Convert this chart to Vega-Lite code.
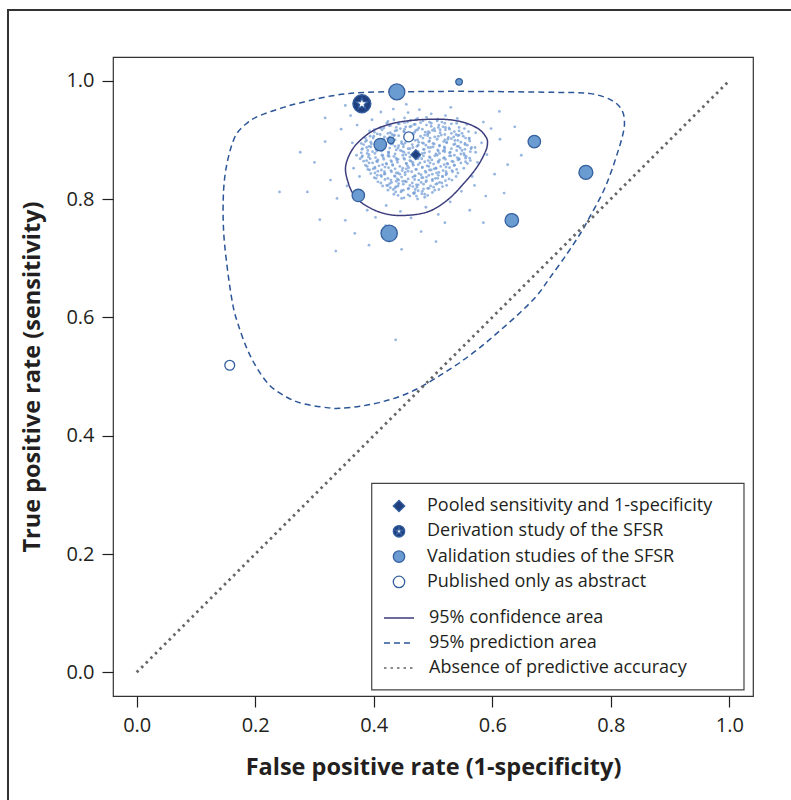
{
  "$schema": "https://vega.github.io/schema/vega-lite/v6.json",
  "width": 640,
  "height": 639,
  "autosize": {"type": "none"},
  "padding": {"left": 113, "top": 57, "right": 38, "bottom": 104},
  "background": "white",
  "config": {
    "font": "Open Sans",
    "view": {"stroke": "#333333", "strokeWidth": 1.2},
    "axis": {
      "domain": false, "grid": false, "ticks": true, "tickSize": 11, "tickColor": "#231f20", "tickWidth": 1.2,
      "labelFont": "Open Sans", "labelFontSize": 20, "labelColor": "#231f20", "labelPadding": 8,
      "titleFont": "Open Sans", "titleFontWeight": "bold", "titleFontSize": 23.5, "titleColor": "#231f20"
    }
  },
  "datasets": {
    "studies": [
      {"fpr": 0.380, "tpr": 0.961, "type": "Derivation study of the SFSR", "n": 103},
      {"fpr": 0.439, "tpr": 0.981, "type": "Validation studies of the SFSR", "n": 81},
      {"fpr": 0.544, "tpr": 0.998, "type": "Validation studies of the SFSR", "n": 14},
      {"fpr": 0.411, "tpr": 0.892, "type": "Validation studies of the SFSR", "n": 50},
      {"fpr": 0.429, "tpr": 0.899, "type": "Validation studies of the SFSR", "n": 14},
      {"fpr": 0.459, "tpr": 0.905, "type": "Published only as abstract", "n": 31},
      {"fpr": 0.374, "tpr": 0.806, "type": "Validation studies of the SFSR", "n": 49},
      {"fpr": 0.426, "tpr": 0.742, "type": "Validation studies of the SFSR", "n": 85},
      {"fpr": 0.671, "tpr": 0.897, "type": "Validation studies of the SFSR", "n": 50},
      {"fpr": 0.758, "tpr": 0.845, "type": "Validation studies of the SFSR", "n": 62},
      {"fpr": 0.633, "tpr": 0.764, "type": "Validation studies of the SFSR", "n": 58},
      {"fpr": 0.157, "tpr": 0.519, "type": "Published only as abstract", "n": 31},
      {"fpr": 0.471, "tpr": 0.875, "type": "Pooled sensitivity and 1-specificity", "n": 30}
    ],
    "curves": [
      {"curve": "95% confidence area", "i": 1, "fpr": 0.3524, "tpr": 0.8536},
      {"curve": "95% confidence area", "i": 2, "fpr": 0.3597, "tpr": 0.8763},
      {"curve": "95% confidence area", "i": 3, "fpr": 0.3738, "tpr": 0.8958},
      {"curve": "95% confidence area", "i": 4, "fpr": 0.3991, "tpr": 0.9156},
      {"curve": "95% confidence area", "i": 5, "fpr": 0.4329, "tpr": 0.9279},
      {"curve": "95% confidence area", "i": 6, "fpr": 0.4725, "tpr": 0.9336},
      {"curve": "95% confidence area", "i": 7, "fpr": 0.5175, "tpr": 0.9347},
      {"curve": "95% confidence area", "i": 8, "fpr": 0.5513, "tpr": 0.9296},
      {"curve": "95% confidence area", "i": 9, "fpr": 0.5767, "tpr": 0.9185},
      {"curve": "95% confidence area", "i": 10, "fpr": 0.5897, "tpr": 0.9043},
      {"curve": "95% confidence area", "i": 11, "fpr": 0.5919, "tpr": 0.8931},
      {"curve": "95% confidence area", "i": 12, "fpr": 0.5880, "tpr": 0.8790},
      {"curve": "95% confidence area", "i": 13, "fpr": 0.5740, "tpr": 0.8536},
      {"curve": "95% confidence area", "i": 14, "fpr": 0.5513, "tpr": 0.8256},
      {"curve": "95% confidence area", "i": 15, "fpr": 0.5233, "tpr": 0.7974},
      {"curve": "95% confidence area", "i": 16, "fpr": 0.4894, "tpr": 0.7777},
      {"curve": "95% confidence area", "i": 17, "fpr": 0.4443, "tpr": 0.7721},
      {"curve": "95% confidence area", "i": 18, "fpr": 0.4105, "tpr": 0.7777},
      {"curve": "95% confidence area", "i": 19, "fpr": 0.3822, "tpr": 0.7918},
      {"curve": "95% confidence area", "i": 20, "fpr": 0.3653, "tpr": 0.8087},
      {"curve": "95% confidence area", "i": 21, "fpr": 0.3558, "tpr": 0.8312},
      {"curve": "95% prediction area", "i": 1, "fpr": 0.1624, "tpr": 0.6201},
      {"curve": "95% prediction area", "i": 2, "fpr": 0.1534, "tpr": 0.6792},
      {"curve": "95% prediction area", "i": 3, "fpr": 0.1466, "tpr": 0.7467},
      {"curve": "95% prediction area", "i": 4, "fpr": 0.1466, "tpr": 0.8143},
      {"curve": "95% prediction area", "i": 5, "fpr": 0.1534, "tpr": 0.8649},
      {"curve": "95% prediction area", "i": 6, "fpr": 0.1669, "tpr": 0.9071},
      {"curve": "95% prediction area", "i": 7, "fpr": 0.1872, "tpr": 0.9291},
      {"curve": "95% prediction area", "i": 8, "fpr": 0.2075, "tpr": 0.9409},
      {"curve": "95% prediction area", "i": 9, "fpr": 0.2464, "tpr": 0.9544},
      {"curve": "95% prediction area", "i": 10, "fpr": 0.2752, "tpr": 0.9623},
      {"curve": "95% prediction area", "i": 11, "fpr": 0.3310, "tpr": 0.9747},
      {"curve": "95% prediction area", "i": 12, "fpr": 0.3880, "tpr": 0.9803},
      {"curve": "95% prediction area", "i": 13, "fpr": 0.4663, "tpr": 0.9814},
      {"curve": "95% prediction area", "i": 14, "fpr": 0.5571, "tpr": 0.9819},
      {"curve": "95% prediction area", "i": 15, "fpr": 0.7030, "tpr": 0.9803},
      {"curve": "95% prediction area", "i": 16, "fpr": 0.7656, "tpr": 0.9781},
      {"curve": "95% prediction area", "i": 17, "fpr": 0.8023, "tpr": 0.9663},
      {"curve": "95% prediction area", "i": 18, "fpr": 0.8192, "tpr": 0.9494},
      {"curve": "95% prediction area", "i": 19, "fpr": 0.8231, "tpr": 0.9269},
      {"curve": "95% prediction area", "i": 20, "fpr": 0.8192, "tpr": 0.9043},
      {"curve": "95% prediction area", "i": 21, "fpr": 0.8108, "tpr": 0.8763},
      {"curve": "95% prediction area", "i": 22, "fpr": 0.7994, "tpr": 0.8425},
      {"curve": "95% prediction area", "i": 23, "fpr": 0.7854, "tpr": 0.8087},
      {"curve": "95% prediction area", "i": 24, "fpr": 0.7627, "tpr": 0.7665},
      {"curve": "95% prediction area", "i": 25, "fpr": 0.7487, "tpr": 0.7417},
      {"curve": "95% prediction area", "i": 26, "fpr": 0.7262, "tpr": 0.7074},
      {"curve": "95% prediction area", "i": 27, "fpr": 0.6980, "tpr": 0.6679},
      {"curve": "95% prediction area", "i": 28, "fpr": 0.6755, "tpr": 0.6370},
      {"curve": "95% prediction area", "i": 29, "fpr": 0.6472, "tpr": 0.6083},
      {"curve": "95% prediction area", "i": 30, "fpr": 0.6134, "tpr": 0.5779},
      {"curve": "95% prediction area", "i": 31, "fpr": 0.5796, "tpr": 0.5492},
      {"curve": "95% prediction area", "i": 32, "fpr": 0.5458, "tpr": 0.5239},
      {"curve": "95% prediction area", "i": 33, "fpr": 0.5119, "tpr": 0.5019},
      {"curve": "95% prediction area", "i": 34, "fpr": 0.4781, "tpr": 0.4816},
      {"curve": "95% prediction area", "i": 35, "fpr": 0.4443, "tpr": 0.4665},
      {"curve": "95% prediction area", "i": 36, "fpr": 0.4105, "tpr": 0.4563},
      {"curve": "95% prediction area", "i": 37, "fpr": 0.3766, "tpr": 0.4496},
      {"curve": "95% prediction area", "i": 38, "fpr": 0.3428, "tpr": 0.4462},
      {"curve": "95% prediction area", "i": 39, "fpr": 0.3203, "tpr": 0.4474},
      {"curve": "95% prediction area", "i": 40, "fpr": 0.2807, "tpr": 0.4542},
      {"curve": "95% prediction area", "i": 41, "fpr": 0.2527, "tpr": 0.4653},
      {"curve": "95% prediction area", "i": 42, "fpr": 0.2244, "tpr": 0.4851},
      {"curve": "95% prediction area", "i": 43, "fpr": 0.2019, "tpr": 0.5160},
      {"curve": "95% prediction area", "i": 44, "fpr": 0.1850, "tpr": 0.5497},
      {"curve": "95% prediction area", "i": 45, "fpr": 0.1708, "tpr": 0.5892}
    ],
    "diagonal": [
      {"curve": "Absence of predictive accuracy", "i": 1, "fpr": 0, "tpr": 0},
      {"curve": "Absence of predictive accuracy", "i": 2, "fpr": 1, "tpr": 1}
    ],
    "cloud": [
      {"fpr":0.452,"tpr":0.937},{"fpr":0.471,"tpr":0.934},{"fpr":0.489,"tpr":0.938},{"fpr":0.508,"tpr":0.935},
      {"fpr":0.424,"tpr":0.931},{"fpr":0.441,"tpr":0.927},{"fpr":0.457,"tpr":0.930},{"fpr":0.468,"tpr":0.926},{"fpr":0.483,"tpr":0.932},{"fpr":0.497,"tpr":0.928},{"fpr":0.515,"tpr":0.930},{"fpr":0.531,"tpr":0.927},
      {"fpr":0.411,"tpr":0.920},{"fpr":0.426,"tpr":0.924},{"fpr":0.438,"tpr":0.921},{"fpr":0.452,"tpr":0.918},{"fpr":0.463,"tpr":0.923},{"fpr":0.476,"tpr":0.920},{"fpr":0.489,"tpr":0.925},{"fpr":0.502,"tpr":0.919},{"fpr":0.517,"tpr":0.922},{"fpr":0.528,"tpr":0.918},{"fpr":0.544,"tpr":0.921},
      {"fpr":0.401,"tpr":0.913},{"fpr":0.414,"tpr":0.917},{"fpr":0.428,"tpr":0.912},{"fpr":0.439,"tpr":0.916},{"fpr":0.451,"tpr":0.914},{"fpr":0.465,"tpr":0.911},{"fpr":0.474,"tpr":0.917},{"fpr":0.487,"tpr":0.913},{"fpr":0.499,"tpr":0.916},{"fpr":0.512,"tpr":0.912},{"fpr":0.521,"tpr":0.917},{"fpr":0.536,"tpr":0.914},{"fpr":0.549,"tpr":0.911},
      {"fpr":0.394,"tpr":0.906},{"fpr":0.406,"tpr":0.910},{"fpr":0.418,"tpr":0.905},{"fpr":0.431,"tpr":0.909},{"fpr":0.442,"tpr":0.907},{"fpr":0.455,"tpr":0.904},{"fpr":0.467,"tpr":0.909},{"fpr":0.479,"tpr":0.906},{"fpr":0.491,"tpr":0.910},{"fpr":0.503,"tpr":0.905},{"fpr":0.514,"tpr":0.908},{"fpr":0.526,"tpr":0.904},{"fpr":0.539,"tpr":0.909},{"fpr":0.551,"tpr":0.906},{"fpr":0.561,"tpr":0.903},
      {"fpr":0.388,"tpr":0.899},{"fpr":0.399,"tpr":0.903},{"fpr":0.411,"tpr":0.898},{"fpr":0.423,"tpr":0.902},{"fpr":0.436,"tpr":0.900},{"fpr":0.447,"tpr":0.897},{"fpr":0.459,"tpr":0.902},{"fpr":0.470,"tpr":0.899},{"fpr":0.483,"tpr":0.903},{"fpr":0.494,"tpr":0.898},{"fpr":0.507,"tpr":0.901},{"fpr":0.518,"tpr":0.897},{"fpr":0.531,"tpr":0.902},{"fpr":0.542,"tpr":0.899},{"fpr":0.555,"tpr":0.903},
      {"fpr":0.383,"tpr":0.892},{"fpr":0.395,"tpr":0.896},{"fpr":0.406,"tpr":0.891},{"fpr":0.418,"tpr":0.895},{"fpr":0.429,"tpr":0.893},{"fpr":0.442,"tpr":0.890},{"fpr":0.453,"tpr":0.895},{"fpr":0.465,"tpr":0.892},{"fpr":0.476,"tpr":0.896},{"fpr":0.488,"tpr":0.891},{"fpr":0.500,"tpr":0.894},{"fpr":0.511,"tpr":0.890},{"fpr":0.523,"tpr":0.895},{"fpr":0.535,"tpr":0.892},{"fpr":0.547,"tpr":0.896},{"fpr":0.558,"tpr":0.891},
      {"fpr":0.381,"tpr":0.885},{"fpr":0.392,"tpr":0.889},{"fpr":0.404,"tpr":0.884},{"fpr":0.415,"tpr":0.888},{"fpr":0.427,"tpr":0.886},{"fpr":0.438,"tpr":0.883},{"fpr":0.450,"tpr":0.888},{"fpr":0.461,"tpr":0.885},{"fpr":0.473,"tpr":0.889},{"fpr":0.485,"tpr":0.884},{"fpr":0.496,"tpr":0.887},{"fpr":0.508,"tpr":0.883},{"fpr":0.519,"tpr":0.888},{"fpr":0.531,"tpr":0.885},{"fpr":0.543,"tpr":0.889},{"fpr":0.554,"tpr":0.884},{"fpr":0.565,"tpr":0.887},
      {"fpr":0.379,"tpr":0.878},{"fpr":0.390,"tpr":0.882},{"fpr":0.402,"tpr":0.877},{"fpr":0.413,"tpr":0.881},{"fpr":0.425,"tpr":0.879},{"fpr":0.436,"tpr":0.876},{"fpr":0.448,"tpr":0.881},{"fpr":0.459,"tpr":0.878},{"fpr":0.482,"tpr":0.877},{"fpr":0.494,"tpr":0.880},{"fpr":0.505,"tpr":0.876},{"fpr":0.517,"tpr":0.881},{"fpr":0.528,"tpr":0.878},{"fpr":0.540,"tpr":0.882},{"fpr":0.552,"tpr":0.877},{"fpr":0.563,"tpr":0.880},
      {"fpr":0.380,"tpr":0.871},{"fpr":0.392,"tpr":0.875},{"fpr":0.403,"tpr":0.870},{"fpr":0.415,"tpr":0.874},{"fpr":0.426,"tpr":0.872},{"fpr":0.438,"tpr":0.869},{"fpr":0.449,"tpr":0.874},{"fpr":0.461,"tpr":0.871},{"fpr":0.484,"tpr":0.873},{"fpr":0.495,"tpr":0.870},{"fpr":0.507,"tpr":0.874},{"fpr":0.518,"tpr":0.869},{"fpr":0.530,"tpr":0.873},{"fpr":0.541,"tpr":0.870},{"fpr":0.553,"tpr":0.874},{"fpr":0.562,"tpr":0.869},
      {"fpr":0.383,"tpr":0.864},{"fpr":0.394,"tpr":0.868},{"fpr":0.406,"tpr":0.863},{"fpr":0.417,"tpr":0.867},{"fpr":0.429,"tpr":0.865},{"fpr":0.440,"tpr":0.862},{"fpr":0.452,"tpr":0.867},{"fpr":0.463,"tpr":0.864},{"fpr":0.475,"tpr":0.868},{"fpr":0.486,"tpr":0.863},{"fpr":0.498,"tpr":0.866},{"fpr":0.509,"tpr":0.862},{"fpr":0.521,"tpr":0.867},{"fpr":0.532,"tpr":0.864},{"fpr":0.544,"tpr":0.868},{"fpr":0.555,"tpr":0.863},
      {"fpr":0.386,"tpr":0.857},{"fpr":0.398,"tpr":0.861},{"fpr":0.409,"tpr":0.856},{"fpr":0.421,"tpr":0.860},{"fpr":0.432,"tpr":0.858},{"fpr":0.444,"tpr":0.855},{"fpr":0.455,"tpr":0.860},{"fpr":0.467,"tpr":0.857},{"fpr":0.478,"tpr":0.861},{"fpr":0.490,"tpr":0.856},{"fpr":0.501,"tpr":0.859},{"fpr":0.513,"tpr":0.855},{"fpr":0.524,"tpr":0.860},{"fpr":0.536,"tpr":0.857},{"fpr":0.547,"tpr":0.861},
      {"fpr":0.390,"tpr":0.850},{"fpr":0.402,"tpr":0.854},{"fpr":0.413,"tpr":0.849},{"fpr":0.425,"tpr":0.853},{"fpr":0.436,"tpr":0.851},{"fpr":0.448,"tpr":0.848},{"fpr":0.459,"tpr":0.853},{"fpr":0.471,"tpr":0.850},{"fpr":0.482,"tpr":0.854},{"fpr":0.494,"tpr":0.849},{"fpr":0.505,"tpr":0.852},{"fpr":0.517,"tpr":0.848},{"fpr":0.528,"tpr":0.853},{"fpr":0.540,"tpr":0.850},
      {"fpr":0.395,"tpr":0.843},{"fpr":0.407,"tpr":0.847},{"fpr":0.418,"tpr":0.842},{"fpr":0.430,"tpr":0.846},{"fpr":0.441,"tpr":0.844},{"fpr":0.453,"tpr":0.841},{"fpr":0.464,"tpr":0.846},{"fpr":0.476,"tpr":0.843},{"fpr":0.487,"tpr":0.847},{"fpr":0.499,"tpr":0.842},{"fpr":0.510,"tpr":0.845},{"fpr":0.522,"tpr":0.841},{"fpr":0.533,"tpr":0.846},
      {"fpr":0.401,"tpr":0.836},{"fpr":0.412,"tpr":0.840},{"fpr":0.424,"tpr":0.835},{"fpr":0.435,"tpr":0.839},{"fpr":0.447,"tpr":0.837},{"fpr":0.458,"tpr":0.834},{"fpr":0.470,"tpr":0.839},{"fpr":0.481,"tpr":0.836},{"fpr":0.493,"tpr":0.840},{"fpr":0.504,"tpr":0.835},{"fpr":0.516,"tpr":0.838},{"fpr":0.527,"tpr":0.834},
      {"fpr":0.407,"tpr":0.829},{"fpr":0.419,"tpr":0.833},{"fpr":0.430,"tpr":0.828},{"fpr":0.442,"tpr":0.832},{"fpr":0.453,"tpr":0.830},{"fpr":0.465,"tpr":0.827},{"fpr":0.476,"tpr":0.832},{"fpr":0.488,"tpr":0.829},{"fpr":0.499,"tpr":0.833},{"fpr":0.511,"tpr":0.828},{"fpr":0.521,"tpr":0.831},
      {"fpr":0.415,"tpr":0.822},{"fpr":0.427,"tpr":0.826},{"fpr":0.438,"tpr":0.821},{"fpr":0.450,"tpr":0.825},{"fpr":0.461,"tpr":0.823},{"fpr":0.473,"tpr":0.820},{"fpr":0.484,"tpr":0.825},{"fpr":0.496,"tpr":0.822},{"fpr":0.507,"tpr":0.826},{"fpr":0.516,"tpr":0.821},
      {"fpr":0.424,"tpr":0.815},{"fpr":0.436,"tpr":0.819},{"fpr":0.447,"tpr":0.814},{"fpr":0.459,"tpr":0.818},{"fpr":0.470,"tpr":0.816},{"fpr":0.482,"tpr":0.813},{"fpr":0.493,"tpr":0.818},{"fpr":0.503,"tpr":0.815},
      {"fpr":0.434,"tpr":0.808},{"fpr":0.446,"tpr":0.812},{"fpr":0.458,"tpr":0.807},{"fpr":0.469,"tpr":0.811},{"fpr":0.481,"tpr":0.809},{"fpr":0.491,"tpr":0.806},
      {"fpr":0.447,"tpr":0.801},{"fpr":0.461,"tpr":0.805},{"fpr":0.474,"tpr":0.800},{"fpr":0.486,"tpr":0.803},
      {"fpr":0.434,"tpr":0.934},{"fpr":0.452,"tpr":0.929},{"fpr":0.462,"tpr":0.933},{"fpr":0.474,"tpr":0.936},{"fpr":0.494,"tpr":0.930},{"fpr":0.507,"tpr":0.932},{"fpr":0.520,"tpr":0.928},
      {"fpr":0.422,"tpr":0.928},{"fpr":0.428,"tpr":0.924},{"fpr":0.443,"tpr":0.927},{"fpr":0.461,"tpr":0.922},{"fpr":0.470,"tpr":0.926},{"fpr":0.479,"tpr":0.929},{"fpr":0.497,"tpr":0.923},{"fpr":0.510,"tpr":0.925},{"fpr":0.521,"tpr":0.921},{"fpr":0.540,"tpr":0.928},
      {"fpr":0.401,"tpr":0.917},{"fpr":0.417,"tpr":0.920},{"fpr":0.436,"tpr":0.915},{"fpr":0.445,"tpr":0.919},{"fpr":0.454,"tpr":0.922},{"fpr":0.471,"tpr":0.916},{"fpr":0.482,"tpr":0.918},{"fpr":0.492,"tpr":0.914},{"fpr":0.509,"tpr":0.921},{"fpr":0.512,"tpr":0.917},{"fpr":0.527,"tpr":0.920},{"fpr":0.544,"tpr":0.915},{"fpr":0.553,"tpr":0.919},
      {"fpr":0.393,"tpr":0.915},{"fpr":0.411,"tpr":0.909},{"fpr":0.424,"tpr":0.911},{"fpr":0.434,"tpr":0.907},{"fpr":0.451,"tpr":0.914},{"fpr":0.455,"tpr":0.910},{"fpr":0.469,"tpr":0.913},{"fpr":0.486,"tpr":0.908},{"fpr":0.494,"tpr":0.912},{"fpr":0.503,"tpr":0.915},{"fpr":0.520,"tpr":0.909},{"fpr":0.531,"tpr":0.911},{"fpr":0.542,"tpr":0.907},{"fpr":0.560,"tpr":0.914},
      {"fpr":0.386,"tpr":0.903},{"fpr":0.400,"tpr":0.906},{"fpr":0.417,"tpr":0.901},{"fpr":0.427,"tpr":0.905},{"fpr":0.435,"tpr":0.908},{"fpr":0.453,"tpr":0.902},{"fpr":0.464,"tpr":0.904},{"fpr":0.474,"tpr":0.900},{"fpr":0.491,"tpr":0.907},{"fpr":0.495,"tpr":0.903},{"fpr":0.509,"tpr":0.906},{"fpr":0.525,"tpr":0.901},{"fpr":0.535,"tpr":0.905},{"fpr":0.544,"tpr":0.908},{"fpr":0.561,"tpr":0.902},
      {"fpr":0.386,"tpr":0.897},{"fpr":0.396,"tpr":0.893},{"fpr":0.413,"tpr":0.900},{"fpr":0.417,"tpr":0.896},{"fpr":0.431,"tpr":0.899},{"fpr":0.447,"tpr":0.894},{"fpr":0.456,"tpr":0.898},{"fpr":0.465,"tpr":0.901},{"fpr":0.482,"tpr":0.895},{"fpr":0.493,"tpr":0.897},{"fpr":0.502,"tpr":0.893},{"fpr":0.520,"tpr":0.900},{"fpr":0.523,"tpr":0.896},{"fpr":0.537,"tpr":0.899},{"fpr":0.554,"tpr":0.894},{"fpr":0.562,"tpr":0.898},
      {"fpr":0.379,"tpr":0.894},{"fpr":0.395,"tpr":0.888},{"fpr":0.406,"tpr":0.890},{"fpr":0.416,"tpr":0.886},{"fpr":0.432,"tpr":0.893},{"fpr":0.436,"tpr":0.889},{"fpr":0.450,"tpr":0.892},{"fpr":0.466,"tpr":0.887},{"fpr":0.475,"tpr":0.891},{"fpr":0.484,"tpr":0.894},{"fpr":0.500,"tpr":0.888},{"fpr":0.511,"tpr":0.890},{"fpr":0.520,"tpr":0.886},{"fpr":0.537,"tpr":0.893},{"fpr":0.541,"tpr":0.889},{"fpr":0.554,"tpr":0.892},{"fpr":0.571,"tpr":0.887},
      {"fpr":0.380,"tpr":0.884},{"fpr":0.388,"tpr":0.887},{"fpr":0.405,"tpr":0.881},{"fpr":0.415,"tpr":0.883},{"fpr":0.425,"tpr":0.879},{"fpr":0.441,"tpr":0.886},{"fpr":0.445,"tpr":0.882},{"fpr":0.458,"tpr":0.885},{"fpr":0.475,"tpr":0.880},{"fpr":0.484,"tpr":0.884},{"fpr":0.492,"tpr":0.887},{"fpr":0.509,"tpr":0.881},{"fpr":0.519,"tpr":0.883},{"fpr":0.529,"tpr":0.879},{"fpr":0.546,"tpr":0.886},{"fpr":0.549,"tpr":0.882},{"fpr":0.564,"tpr":0.885},
      {"fpr":0.381,"tpr":0.873},{"fpr":0.389,"tpr":0.877},{"fpr":0.398,"tpr":0.880},{"fpr":0.414,"tpr":0.874},{"fpr":0.425,"tpr":0.876},{"fpr":0.434,"tpr":0.872},{"fpr":0.451,"tpr":0.879},{"fpr":0.454,"tpr":0.875},{"fpr":0.486,"tpr":0.878},{"fpr":0.503,"tpr":0.873},{"fpr":0.511,"tpr":0.877},{"fpr":0.520,"tpr":0.880},{"fpr":0.536,"tpr":0.874},{"fpr":0.547,"tpr":0.876},{"fpr":0.556,"tpr":0.872},{"fpr":0.572,"tpr":0.879},
      {"fpr":0.377,"tpr":0.868},{"fpr":0.391,"tpr":0.871},{"fpr":0.407,"tpr":0.866},{"fpr":0.416,"tpr":0.870},{"fpr":0.424,"tpr":0.873},{"fpr":0.441,"tpr":0.867},{"fpr":0.451,"tpr":0.869},{"fpr":0.461,"tpr":0.865},{"fpr":0.477,"tpr":0.872},{"fpr":0.481,"tpr":0.868},{"fpr":0.494,"tpr":0.871},{"fpr":0.511,"tpr":0.866},{"fpr":0.519,"tpr":0.870},{"fpr":0.528,"tpr":0.873},{"fpr":0.544,"tpr":0.867},{"fpr":0.555,"tpr":0.869},{"fpr":0.563,"tpr":0.865},
      {"fpr":0.388,"tpr":0.865},{"fpr":0.392,"tpr":0.861},{"fpr":0.405,"tpr":0.864},{"fpr":0.422,"tpr":0.859},{"fpr":0.430,"tpr":0.863},{"fpr":0.439,"tpr":0.866},{"fpr":0.455,"tpr":0.860},{"fpr":0.466,"tpr":0.862},{"fpr":0.475,"tpr":0.858},{"fpr":0.492,"tpr":0.865},{"fpr":0.495,"tpr":0.861},{"fpr":0.509,"tpr":0.864},{"fpr":0.525,"tpr":0.859},{"fpr":0.534,"tpr":0.863},{"fpr":0.542,"tpr":0.866},{"fpr":0.558,"tpr":0.860},
      {"fpr":0.389,"tpr":0.855},{"fpr":0.399,"tpr":0.851},{"fpr":0.415,"tpr":0.858},{"fpr":0.419,"tpr":0.854},{"fpr":0.432,"tpr":0.857},{"fpr":0.449,"tpr":0.852},{"fpr":0.457,"tpr":0.856},{"fpr":0.466,"tpr":0.859},{"fpr":0.482,"tpr":0.853},{"fpr":0.493,"tpr":0.855},{"fpr":0.502,"tpr":0.851},{"fpr":0.519,"tpr":0.858},{"fpr":0.522,"tpr":0.854},{"fpr":0.536,"tpr":0.857},{"fpr":0.552,"tpr":0.852},
      {"fpr":0.393,"tpr":0.849},{"fpr":0.402,"tpr":0.852},{"fpr":0.418,"tpr":0.846},{"fpr":0.429,"tpr":0.848},{"fpr":0.438,"tpr":0.844},{"fpr":0.455,"tpr":0.851},{"fpr":0.458,"tpr":0.847},{"fpr":0.472,"tpr":0.850},{"fpr":0.488,"tpr":0.845},{"fpr":0.497,"tpr":0.849},{"fpr":0.505,"tpr":0.852},{"fpr":0.522,"tpr":0.846},{"fpr":0.532,"tpr":0.848},{"fpr":0.542,"tpr":0.844},
      {"fpr":0.402,"tpr":0.844},{"fpr":0.406,"tpr":0.840},{"fpr":0.419,"tpr":0.843},{"fpr":0.436,"tpr":0.838},{"fpr":0.444,"tpr":0.842},{"fpr":0.453,"tpr":0.845},{"fpr":0.469,"tpr":0.839},{"fpr":0.480,"tpr":0.841},{"fpr":0.489,"tpr":0.837},{"fpr":0.506,"tpr":0.844},{"fpr":0.509,"tpr":0.840},{"fpr":0.523,"tpr":0.843},{"fpr":0.539,"tpr":0.838},
      {"fpr":0.404,"tpr":0.835},{"fpr":0.413,"tpr":0.838},{"fpr":0.429,"tpr":0.832},{"fpr":0.440,"tpr":0.834},{"fpr":0.449,"tpr":0.830},{"fpr":0.466,"tpr":0.837},{"fpr":0.469,"tpr":0.833},{"fpr":0.483,"tpr":0.836},{"fpr":0.499,"tpr":0.831},{"fpr":0.508,"tpr":0.835},{"fpr":0.516,"tpr":0.838},{"fpr":0.532,"tpr":0.832},
      {"fpr":0.412,"tpr":0.827},{"fpr":0.422,"tpr":0.823},{"fpr":0.438,"tpr":0.830},{"fpr":0.442,"tpr":0.826},{"fpr":0.455,"tpr":0.829},{"fpr":0.472,"tpr":0.824},{"fpr":0.480,"tpr":0.828},{"fpr":0.489,"tpr":0.831},{"fpr":0.505,"tpr":0.825},{"fpr":0.515,"tpr":0.827},{"fpr":0.523,"tpr":0.823},
      {"fpr":0.424,"tpr":0.823},{"fpr":0.428,"tpr":0.819},{"fpr":0.441,"tpr":0.822},{"fpr":0.458,"tpr":0.817},{"fpr":0.466,"tpr":0.821},{"fpr":0.475,"tpr":0.824},{"fpr":0.491,"tpr":0.818},{"fpr":0.501,"tpr":0.820},{"fpr":0.510,"tpr":0.816},
      {"fpr":0.433,"tpr":0.816},{"fpr":0.437,"tpr":0.812},{"fpr":0.450,"tpr":0.815},{"fpr":0.467,"tpr":0.810},{"fpr":0.475,"tpr":0.814},{"fpr":0.484,"tpr":0.817},{"fpr":0.499,"tpr":0.811},
      {"fpr":0.441,"tpr":0.806},{"fpr":0.451,"tpr":0.802},{"fpr":0.468,"tpr":0.809},{"fpr":0.472,"tpr":0.805},{"fpr":0.486,"tpr":0.808},
      {"fpr":0.300,"tpr":0.862},{"fpr":0.318,"tpr":0.897},{"fpr":0.327,"tpr":0.832},{"fpr":0.338,"tpr":0.801},{"fpr":0.345,"tpr":0.918},{"fpr":0.352,"tpr":0.764},{"fpr":0.361,"tpr":0.941},{"fpr":0.368,"tpr":0.742},{"fpr":0.372,"tpr":0.925},{"fpr":0.366,"tpr":0.852},{"fpr":0.371,"tpr":0.874},{"fpr":0.376,"tpr":0.838},{"fpr":0.384,"tpr":0.951},{"fpr":0.389,"tpr":0.781},{"fpr":0.397,"tpr":0.934},{"fpr":0.403,"tpr":0.769},{"fpr":0.412,"tpr":0.947},{"fpr":0.421,"tpr":0.789},{"fpr":0.433,"tpr":0.952},{"fpr":0.445,"tpr":0.779},{"fpr":0.458,"tpr":0.946},{"fpr":0.463,"tpr":0.768},{"fpr":0.477,"tpr":0.951},{"fpr":0.488,"tpr":0.786},{"fpr":0.497,"tpr":0.944},{"fpr":0.509,"tpr":0.774},{"fpr":0.521,"tpr":0.941},{"fpr":0.529,"tpr":0.795},{"fpr":0.541,"tpr":0.936},{"fpr":0.548,"tpr":0.813},{"fpr":0.557,"tpr":0.926},{"fpr":0.566,"tpr":0.838},{"fpr":0.572,"tpr":0.912},{"fpr":0.575,"tpr":0.862},{"fpr":0.582,"tpr":0.895},{"fpr":0.591,"tpr":0.875},{"fpr":0.598,"tpr":0.919},{"fpr":0.604,"tpr":0.842},{"fpr":0.613,"tpr":0.901},{"fpr":0.626,"tpr":0.858},{"fpr":0.638,"tpr":0.922},{"fpr":0.649,"tpr":0.874},{"fpr":0.288,"tpr":0.812},{"fpr":0.276,"tpr":0.879},{"fpr":0.309,"tpr":0.765},{"fpr":0.336,"tpr":0.712},{"fpr":0.392,"tpr":0.722},{"fpr":0.447,"tpr":0.715},{"fpr":0.505,"tpr":0.728},{"fpr":0.562,"tpr":0.781},{"fpr":0.589,"tpr":0.805},{"fpr":0.612,"tpr":0.948},{"fpr":0.352,"tpr":0.958},{"fpr":0.241,"tpr":0.812},{"fpr":0.437,"tpr":0.562},{"fpr":0.318,"tpr":0.937},{"fpr":0.355,"tpr":0.822},{"fpr":0.364,"tpr":0.895},{"fpr":0.570,"tpr":0.823},{"fpr":0.585,"tpr":0.930},{"fpr":0.620,"tpr":0.810},{"fpr":0.530,"tpr":0.955},{"fpr":0.455,"tpr":0.960},{"fpr":0.392,"tpr":0.965},{"fpr":0.585,"tpr":0.760},{"fpr":0.480,"tpr":0.745},{"fpr":0.420,"tpr":0.755},{"fpr":0.520,"tpr":0.760}
    ]
  },
  "layer": [
    {
      "data": {"name": "cloud"},
      "mark": {"type": "point", "filled": true, "size": 8, "color": "#749dd6", "opacity": 0.75},
      "encoding": {
        "x": {
          "field": "fpr", "type": "quantitative",
          "scale": {"domain": [-0.04, 1.04], "nice": false, "zero": false},
          "axis": {"values": [0, 0.2, 0.4, 0.6, 0.8, 1], "format": ".1f", "title": "False positive rate (1-specificity)", "titlePadding": 20}
        },
        "y": {
          "field": "tpr", "type": "quantitative",
          "scale": {"domain": [-0.04, 1.04], "nice": false, "zero": false},
          "axis": {"values": [0, 0.2, 0.4, 0.6, 0.8, 1], "format": ".1f", "title": "True positive rate (sensitivity)", "titlePadding": 21}
        }
      }
    },
    {
      "data": {"values": [{}]},
      "mark": {"type": "rect", "fill": "transparent", "stroke": "#333333", "strokeWidth": 2},
      "encoding": {
        "x": {"datum": -0.2172, "type": "quantitative"},
        "x2": {"datum": 1.3},
        "y": {"datum": 1.1194, "type": "quantitative"},
        "y2": {"datum": -0.3}
      }
    },
    {
      "data": {"name": "curves"},
      "mark": {"type": "line", "interpolate": "cardinal-closed", "strokeWidth": 1.5},
      "encoding": {
        "x": {"field": "fpr", "type": "quantitative"},
        "y": {"field": "tpr", "type": "quantitative"},
        "order": {"field": "i", "type": "quantitative"},
        "stroke": {
          "field": "curve", "type": "nominal",
          "scale": {"domain": ["95% confidence area", "95% prediction area", "Absence of predictive accuracy"], "range": ["#3c3d7c", "#2b5597", "#666666"]},
          "legend": {"title": null, "orient": "none", "legendX": 270, "legendY": 545, "padding": 0, "labelFontSize": 18, "labelFont": "Open Sans", "labelColor": "#231f20", "labelOffset": 14, "rowPadding": 0, "symbolSize": 900, "symbolType": "stroke", "symbolStrokeWidth": 1.6, "labelLimit": 400}
        },
        "strokeDash": {
          "field": "curve", "type": "nominal",
          "scale": {"domain": ["95% confidence area", "95% prediction area", "Absence of predictive accuracy"], "range": [[1, 0], [6, 4], [2.5, 4]]},
          "legend": {"title": null, "orient": "none", "legendX": 270, "legendY": 545, "padding": 0, "labelFontSize": 18, "labelFont": "Open Sans", "labelColor": "#231f20", "labelOffset": 14, "rowPadding": 0, "symbolSize": 900, "symbolType": "stroke", "symbolStrokeWidth": 1.6, "labelLimit": 400}
        }
      }
    },
    {
      "data": {"name": "diagonal"},
      "mark": {"type": "line", "strokeWidth": 2.8},
      "encoding": {
        "x": {"field": "fpr", "type": "quantitative"},
        "y": {"field": "tpr", "type": "quantitative"},
        "order": {"field": "i", "type": "quantitative"},
        "stroke": {"field": "curve", "type": "nominal"},
        "strokeDash": {"field": "curve", "type": "nominal"}
      }
    },
    {
      "data": {"name": "studies"},
      "mark": {"type": "point", "filled": true, "stroke": "#35609f", "strokeWidth": 1.3, "opacity": 1},
      "encoding": {
        "x": {"field": "fpr", "type": "quantitative"},
        "y": {"field": "tpr", "type": "quantitative"},
        "size": {"field": "n", "type": "quantitative", "scale": {"domain": [0, 100], "range": [0, 314.16]}, "legend": null},
        "fill": {
          "field": "type", "type": "nominal",
          "scale": {"domain": ["Pooled sensitivity and 1-specificity", "Derivation study of the SFSR", "Validation studies of the SFSR", "Published only as abstract"], "range": ["#1f3f7f", "#1f3f7f", "#6a9bd1", "#ffffff"]},
          "legend": {"title": null, "orient": "none", "legendX": 277, "legendY": 440, "padding": 0, "labelFontSize": 18, "labelFont": "Open Sans", "labelColor": "#231f20", "labelOffset": 19, "rowPadding": 7.3, "symbolSize": 130, "symbolStrokeWidth": 1.3, "labelLimit": 400}
        },
        "shape": {
          "field": "type", "type": "nominal",
          "scale": {"domain": ["Pooled sensitivity and 1-specificity", "Derivation study of the SFSR", "Validation studies of the SFSR", "Published only as abstract"], "range": ["diamond", "M0,-1C-0.5523,-1,-1,-0.5523,-1,0C-1,0.5523,-0.5523,1,0,1C0.5523,1,1,0.5523,1,0C1,-0.5523,0.5523,-1,0,-1ZM0,-0.66L0.162,-0.223L0.628,-0.204L0.262,0.085L0.388,0.534L0,0.276L-0.388,0.534L-0.262,0.085L-0.628,-0.204L-0.162,-0.223Z", "circle", "circle"]},
          "legend": {"title": null, "orient": "none", "legendX": 277, "legendY": 440, "padding": 0, "labelFontSize": 18, "labelFont": "Open Sans", "labelColor": "#231f20", "labelOffset": 19, "rowPadding": 7.3, "symbolSize": 130, "symbolStrokeWidth": 1.3, "labelLimit": 400}
        }
      }
    },
    {
      "data": {"values": [{}]},
      "mark": {"type": "rect", "fill": "white", "stroke": "#444444", "strokeWidth": 1.2},
      "encoding": {
        "x": {"datum": 0.3966, "type": "quantitative"},
        "x2": {"datum": 1.0248},
        "y": {"datum": 0.3195, "type": "quantitative"},
        "y2": {"datum": -0.0298}
      }
    }
  ]
}
